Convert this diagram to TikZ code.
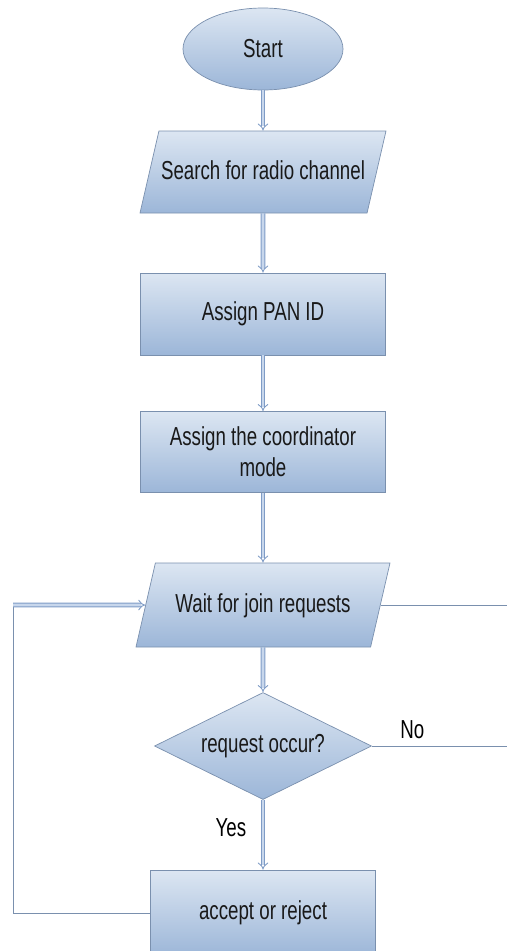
\documentclass[tikz,border=0pt]{standalone}
\usepackage{fontspec}
\setmainfont{Liberation Sans}[FakeStretch=0.72]
\usetikzlibrary{shapes.geometric,arrows.meta}
\definecolor{boxtop}{HTML}{DCE6F2}
\definecolor{boxbot}{HTML}{9CB6D8}
\definecolor{boxline}{HTML}{7A90AE}
\definecolor{flowline}{HTML}{7F9CC6}
\definecolor{flowfill}{HTML}{C8D7EC}

\begin{document}
\begin{tikzpicture}[x=1pt,y=1pt,font=\fontsize{26}{31}\selectfont,
  shaded/.style={draw=boxline,line width=0.7pt,top color=boxtop,bottom color=boxbot,text=black!90,inner sep=0pt,align=center},
  procbox/.style={shaded,rectangle,minimum height=82},
  iobox/.style={shaded,trapezium,trapezium left angle=77,trapezium right angle=103,trapezium stretches body,
    text height=19pt,text depth=5pt,inner xsep=0pt,inner ysep=29pt},
  flow/.style={draw=flowline,line width=0.9pt,double=flowfill,double distance=2.8pt,-{Implies}},
  plain/.style={draw=boxline,line width=0.9pt}]
\useasboundingbox (0,0) rectangle (507,-951);
\clip (0,0) rectangle (507,-951);
\node[shaded,ellipse,minimum width=160,minimum height=82] (start) at (263,-49) {Start};
\node[iobox,minimum width=246] (search) at (263,-172) {Search for radio channel};
\node[procbox,minimum width=245] (panid) at (263,-314) {Assign PAN ID};
\node[procbox,minimum width=245,minimum height=81] (coord) at (263,-452) {Assign the coordinator\\mode};
\node[iobox,minimum width=254,inner ysep=30pt] (wait) at (263,-605) {Wait for join requests};
\node[shaded,diamond,aspect=2,minimum width=217,minimum height=107] (check) at (263,-746) {request occur?};
\node[procbox,minimum width=225,minimum height=86] (accept) at (263,-913) {accept or reject};
\coordinate (loop) at (13,-605);
\coordinate (edge) at (507,0);
\draw[flow] (start) -- (search);
\draw[flow] (search) -- (panid);
\draw[flow] (panid) -- (coord);
\draw[flow] (coord) -- (wait);
\draw[flow] (wait) -- (check);
\draw[flow] (check) -- node[left=13pt,pos=0.4] (yes) {Yes} (accept);
\draw[plain] (accept.west) -| (loop);
\draw[flow] (loop) -- (wait.west);
\draw[plain] (wait.east) -- (wait.east -| edge);
\draw[plain] (check.east) -- node[above=3pt,pos=0.3] (no) {No} (check.east -| edge);
\end{tikzpicture}
\end{document}
